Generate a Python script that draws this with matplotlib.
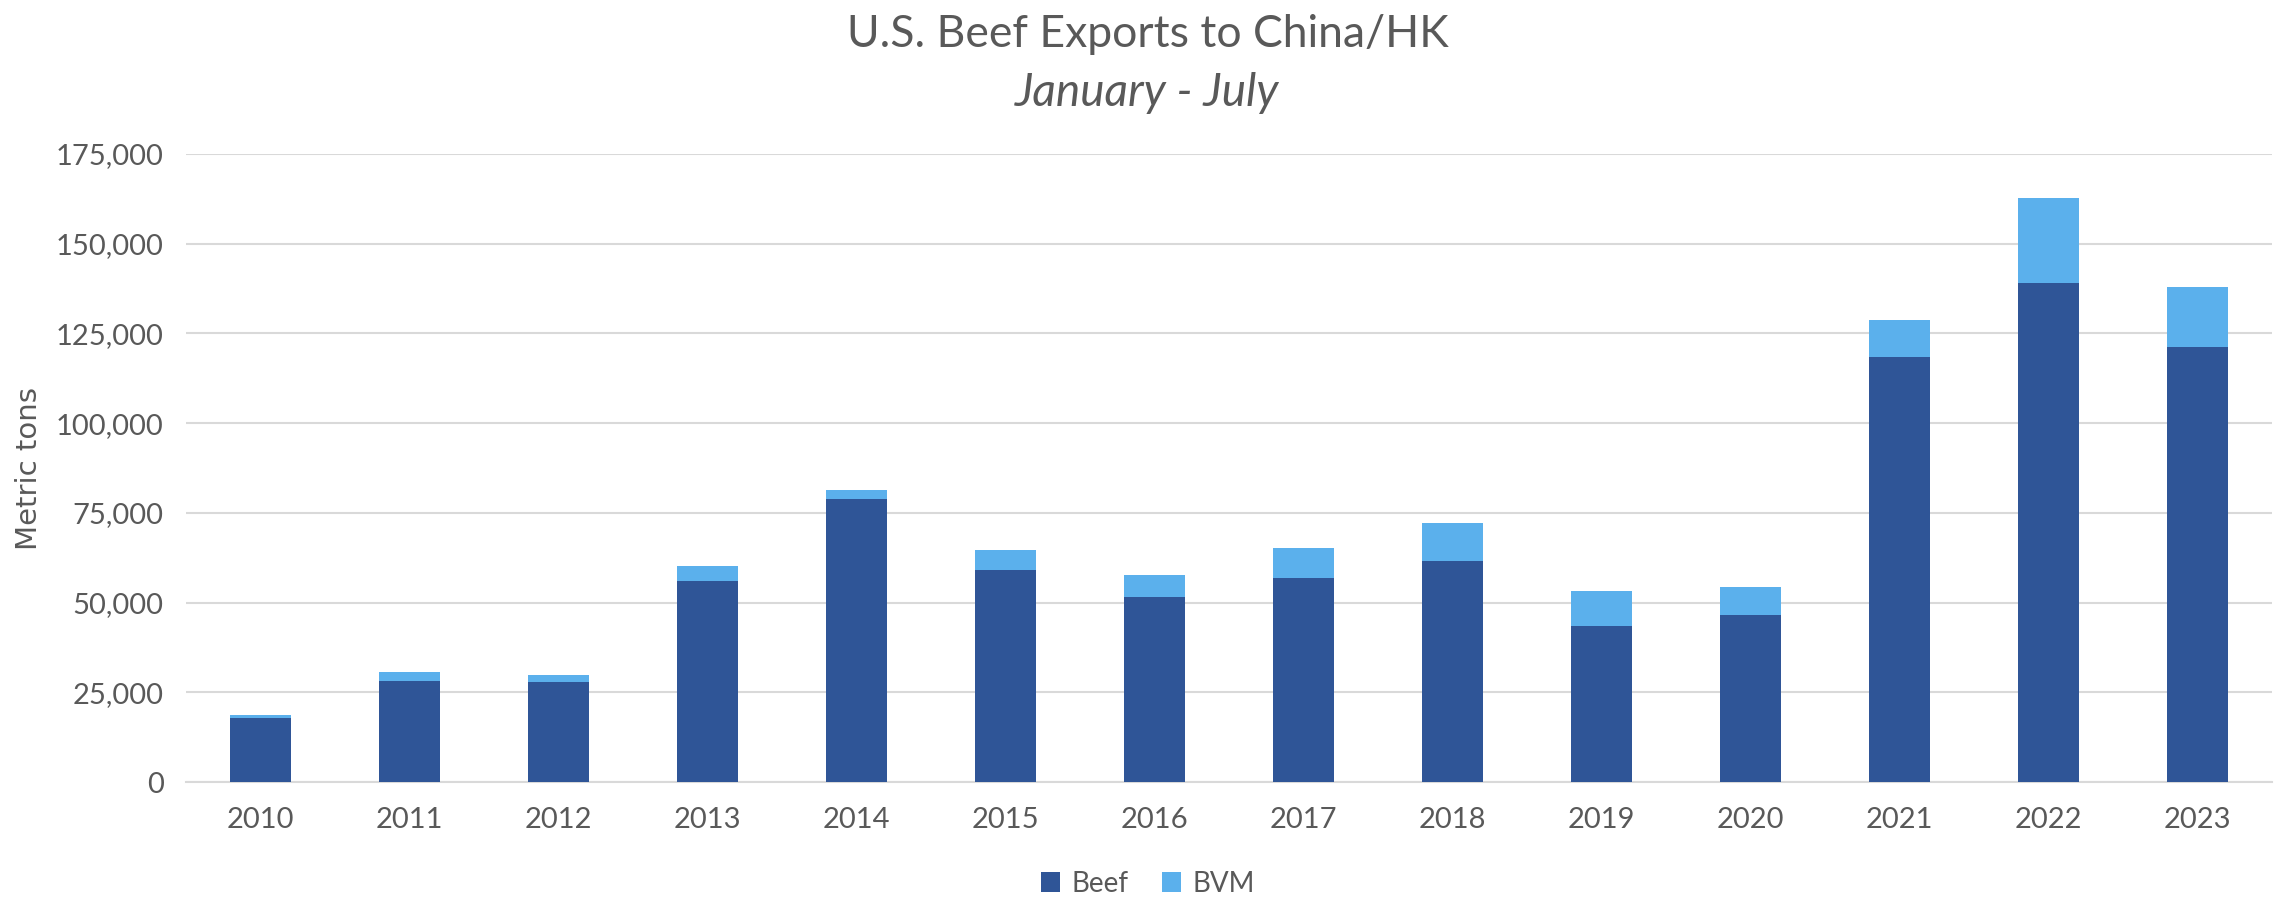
import matplotlib.pyplot as plt
import numpy as np

years = ["2010", "2011", "2012", "2013", "2014", "2015", "2016",
         "2017", "2018", "2019", "2020", "2021", "2022", "2023"]
beef = [17760, 28030, 27780, 55930, 78760, 58950, 51460,
        56780, 61730, 43370, 46510, 118380, 139160, 121280]
bvm = [840, 2650, 2180, 4350, 2660, 5800, 6280,
       8450, 10390, 9900, 7730, 10270, 23560, 16550]

BEEF_COLOR = "#2F5597"
BVM_COLOR = "#5BB0EC"
TEXT = "#595959"

plt.rcParams['font.family'] = ['Lato', 'DejaVu Sans']

fig = plt.figure(figsize=(22.95, 9), dpi=100)
ax = fig.add_axes([0.081, 0.131, 0.909, 0.698])

x = np.arange(len(years))
ax.bar(x, beef, width=0.41, color=BEEF_COLOR, label="Beef", zorder=3)
ax.bar(x, bvm, width=0.41, bottom=beef, color=BVM_COLOR, label="BVM", zorder=3)

ax.set_xlim(-0.5, len(years) - 0.5)
ax.set_ylim(0, 175000)
ax.set_yticks(np.arange(0, 175001, 25000))
ax.yaxis.set_major_formatter(plt.FuncFormatter(lambda v, p: f"{int(v):,}"))
ax.set_xticks(x)
ax.set_xticklabels(years)
ax.tick_params(axis="both", length=0, labelsize=21, colors=TEXT)
ax.tick_params(axis="x", pad=18)
ax.tick_params(axis="y", pad=16)
ax.grid(axis="y", color="#D9D9D9", linewidth=1.5, zorder=0)
for s in ["top", "right", "left"]:
    ax.spines[s].set_visible(False)
ax.spines["bottom"].set_color("#D9D9D9")
ax.spines["bottom"].set_linewidth(1.5)

ax.set_ylabel("Metric tons", fontsize=21, color=TEXT, family=['DejaVu Sans'], labelpad=9)

fig.text(0.5, 0.962, "U.S. Beef Exports to China/HK", ha="center", va="center",
         fontsize=32, color=TEXT)
fig.text(0.5, 0.897, "January - July", ha="center", va="center",
         fontsize=33, color=TEXT, style="italic")

fig.legend(loc="center", bbox_to_anchor=(0.5, 0.018), ncol=2, frameon=False,
           fontsize=20, labelcolor=TEXT, handlelength=0.7, handleheight=0.7,
           handletextpad=0.4, columnspacing=1.2)

fig.savefig("out.png", dpi=100)
